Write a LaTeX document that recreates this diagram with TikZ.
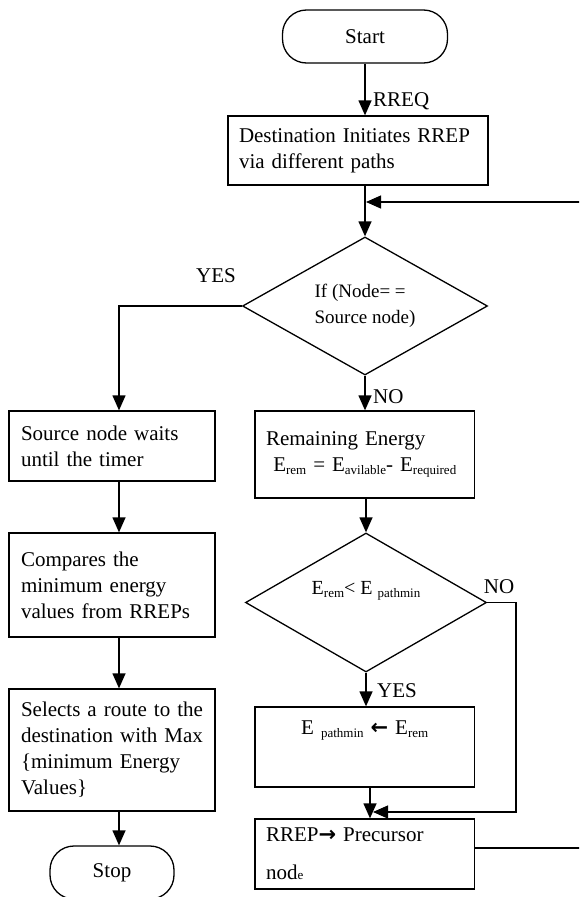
\documentclass[tikz,border=0pt]{standalone}
\usepackage{fontspec}
\setmainfont{Liberation Serif}
\newfontfamily\arrowfont{DejaVu Sans}
\usetikzlibrary{arrows.meta,shapes.geometric,calc}
\newcommand{\sbs}[1]{\raisebox{-3pt}{\fontsize{13}{13}\selectfont #1}}
\newcommand{\rarr}{{\arrowfont\bfseries →}}
\newcommand{\larr}{{\arrowfont\bfseries ←}}
\begin{document}
\begin{tikzpicture}[x=1pt,y=-1pt,
  every node/.style={font=\fontsize{21}{26}\selectfont},
  arr/.style={line width=1.3pt,-{Triangle[length=15pt,width=13pt]}},
  box/.style={draw,line width=1.3pt,rectangle,inner xsep=11pt,inner ysep=0pt,align=left},
  term/.style={draw,line width=1.3pt,rectangle,rounded corners=24pt,inner sep=0pt},
  dec/.style={draw,line width=1.3pt,diamond,inner sep=0pt,aspect=1.77},
  lbl/.style={inner sep=0pt}
]
\useasboundingbox (0,0) rectangle (579,897);
\clip (0,0) rectangle (579,897);

% coordinates for offset connectors
\coordinate (lx) at (119,0);
\coordinate (rx) at (370,0);
\coordinate (nc) at (516,812);
\coordinate (ntip) at (373,812);
\coordinate (lp1) at (595,848);
\coordinate (lp2) at (595,202);
\coordinate (ltip) at (366,202);

% nodes
\node[term,minimum width=165pt,minimum height=53pt] (start) at (365,36.5) {Start};
\node[box,text width=238pt,minimum height=69pt] (dest) at (358,150.5) {Destination Initiates RREP\\via different paths};
\node[dec,minimum width=245pt,minimum height=138pt,align=left,font=\fontsize{19}{26}\selectfont] (d1) at (365,306) {If (Node= =\\Source node)};
\node[box,text width=182pt,inner xsep=12pt,minimum height=70pt] (l1) at (112,446) {Source node waits\\until the timer};
\node[box,text width=182pt,inner xsep=12pt,minimum height=104pt] (l2) at (112,585) {Compares the\\minimum energy\\values from RREPs};
\node[box,text width=182pt,inner xsep=12pt,minimum height=122pt] (l3) at (112,750) {Selects a route to the\\destination with Max\\\{minimum Energy\\Values\}};
\node[term,minimum width=124pt,minimum height=53pt] (stop) at (112,872.5) {Stop};
\node[box,text width=197.5pt,minimum height=87pt] (r1) at (364.75,454.5) {Remaining Energy\\\hbox to \hsize{\hfil E\sbs{rem} = E\sbs{avilable}- E\sbs{required}\hfil}};
\node[dec,minimum width=241pt,minimum height=139pt,font=\fontsize{20}{26}\selectfont,text height=14pt,text depth=31pt] (d2) at (366,602.5) {E\sbs{rem}< E \sbs{pathmin}};
\node[box,text width=197.5pt,minimum height=80pt,align=center,text height=14pt,text depth=40pt] (r2) at (364.75,747) {E \sbs{pathmin} \larr\ E\sbs{rem}};
\node[box,text width=197.5pt,minimum height=70pt] (r3) at (364.75,854) {RREP\rarr\ Precursor\\[12pt]nod{\fontsize{13}{13}\selectfont e}};

% labels
\node[lbl,anchor=west] (rreq) at (373,101) {RREQ};
\node[lbl] (yes1) at (216,276) {YES};
\node[lbl,anchor=west] (no1) at (373,397) {NO};
\node[lbl] (no2) at (499,587) {NO};
\node[lbl,anchor=west] (yes2) at (377,691) {YES};

% connectors
\draw[arr] (start.south) -- (start.south |- dest.north);
\draw[arr] (d1.north |- dest.south) -- (d1.north);
\draw[arr] (d1.west) -| (l1.north -| lx);
\draw[arr] (d1.south) -- (d1.south |- r1.north);
\draw[arr] (d2.north |- r1.south) -- (d2.north);
\draw[arr] (d2.south) -- (d2.south |- r2.north);
\draw[arr] (l1.south -| lx) -- (l2.north -| lx);
\draw[arr] (l2.south -| lx) -- (l3.north -| lx);
\draw[arr] (l3.south -| lx) -- (stop.north -| lx);
\draw[arr] (r2.south -| rx) -- (r3.north -| rx);
\draw[arr] (d2.east) -| (nc) -- (ntip);
\draw[arr] (r3.east |- lp1) -- (lp1) -- (lp2) -- (ltip);
\end{tikzpicture}
\end{document}
